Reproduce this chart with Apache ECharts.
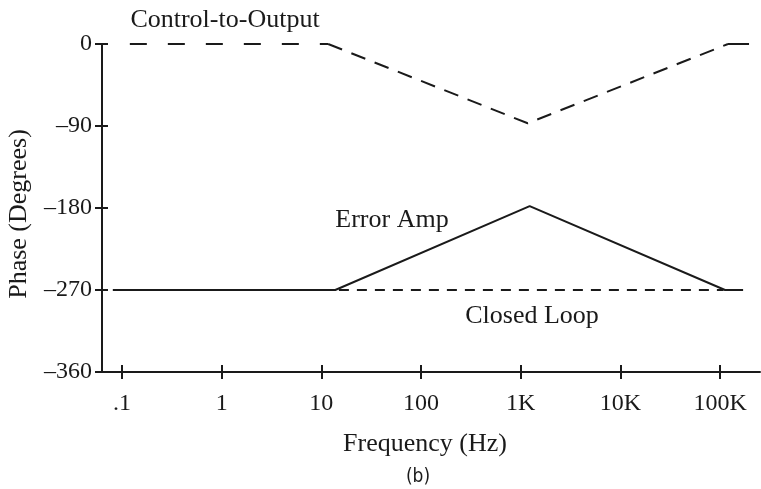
<!DOCTYPE html>
<html>
<head>
<meta charset="utf-8">
<script src="https://cdn.jsdelivr.net/npm/echarts@6/dist/echarts.min.js"></script>
<style>
  html, body { margin: 0; padding: 0; background: #ffffff; }
  #chart { width: 761px; height: 489px; }
</style>
</head>
<body>
<div id="chart"></div>
<script>
// Frequency decades shown on the axis (log10 of Hz) and their labels
const decadeExponents = [-1, 0, 1, 2, 3, 4, 5];
const decadeLabels = ['.1', '1', '10', '100', '1K', '10K', '100K'];

// Phase axis ticks (degrees)
const phaseTicks = [0, -90, -180, -270, -360];

// Control-to-output phase asymptotes (Hz, degrees)
const controlFreq = [0.12, 11.7, 1175, 120000, 195000];
const controlPhase = [0, 0, -87, 0, 0];

// Error amplifier phase asymptotes (Hz, degrees)
const errorAmpFreq = [0.081, 13.8, 1230, 112000, 170000];
const errorAmpPhase = [-270, -270, -178, -270, -270];

// Closed loop phase (Hz, degrees)
const closedLoopFreq = [15, 108000];
const closedLoopPhase = [-270, -270];

const INK = '#1a1a1a';
const SERIF = '"Liberation Serif", "Times New Roman", serif';

function toPoints(freqs, phases) {
  return freqs.map((f, i) => [Math.log10(f), phases[i]]);
}

const controlPts = toPoints(controlFreq, controlPhase);
const errorAmpPts = toPoints(errorAmpFreq, errorAmpPhase);
const closedLoopPts = toPoints(closedLoopFreq, closedLoopPhase);

function lineSeries(name, data, type, width) {
  return {
    name: name,
    type: 'line',
    data: data,
    symbol: 'none',
    silent: true,
    animation: false,
    lineStyle: { color: INK, width: width, type: type, cap: 'butt' },
    z: 3
  };
}

const GRID = { left: 102, right: 1, top: 44, bottom: 117 };

const xCommon = {
  type: 'value',
  min: -1.2,
  max: 5.4,
  position: 'bottom',
  splitLine: { show: false }
};
const yCommon = {
  type: 'value',
  min: phaseTicks[phaseTicks.length - 1],
  max: phaseTicks[0],
  interval: 90,
  position: 'left',
  splitLine: { show: false }
};

const option = {
  backgroundColor: '#ffffff',
  animation: false,
  grid: GRID,
  xAxis: [
    Object.assign({}, xCommon, {
      axisLine: { show: true, onZero: false, lineStyle: { color: INK, width: 2 } },
      axisTick: { show: true, inside: false, length: 7, customValues: decadeExponents,
                  lineStyle: { color: INK, width: 2 } },
      axisLabel: {
        show: true,
        customValues: decadeExponents,
        margin: 20,
        color: INK,
        fontFamily: SERIF,
        fontSize: 24,
        formatter: function (v) {
          const i = decadeExponents.indexOf(Math.round(v));
          return i >= 0 ? decadeLabels[i] : '';
        }
      }
    }),
    // inner half of the crossing ticks on the frequency axis
    Object.assign({}, xCommon, {
      axisLine: { show: false, onZero: false },
      axisTick: { show: true, inside: true, length: 7, customValues: decadeExponents,
                  lineStyle: { color: INK, width: 2 } },
      axisLabel: { show: false }
    })
  ],
  yAxis: [
    Object.assign({}, yCommon, {
      axisLine: { show: true, onZero: false, lineStyle: { color: INK, width: 2 } },
      axisTick: { show: true, inside: false, length: 7, lineStyle: { color: INK, width: 2 } },
      axisLabel: {
        show: true,
        margin: 10,
        color: INK,
        fontFamily: SERIF,
        fontSize: 24,
        formatter: function (v) {
          return v < 0 ? '\u2013' + Math.abs(v) : String(v);
        }
      }
    }),
    // inner half of the crossing ticks on the phase axis
    Object.assign({}, yCommon, {
      axisLine: { show: false, onZero: false },
      axisTick: { show: true, inside: true, length: 6, lineStyle: { color: INK, width: 2 } },
      axisLabel: { show: false }
    })
  ],
  series: [
    lineSeries('Control-to-Output', controlPts.slice(0, 2), [17, 21], 2),
    lineSeries('Control-to-Output', controlPts.slice(1, 4), [15, 10], 2),
    lineSeries('Control-to-Output', controlPts.slice(3, 5), 'solid', 2),
    lineSeries('Error Amp', errorAmpPts, 'solid', 2),
    lineSeries('Closed Loop', closedLoopPts, [10, 8], 2)
  ],
  graphic: [
    { type: 'text', x: 225, y: 20,
      style: { text: 'Control-to-Output', fill: INK, fontFamily: SERIF, fontSize: 26,
               align: 'center', verticalAlign: 'middle', textAlign: 'center', textVerticalAlign: 'middle' } },
    { type: 'text', x: 392, y: 220,
      style: { text: 'Error Amp', fill: INK, fontFamily: SERIF, fontSize: 26,
               align: 'center', verticalAlign: 'middle', textAlign: 'center', textVerticalAlign: 'middle' } },
    { type: 'text', x: 532, y: 316,
      style: { text: 'Closed Loop', fill: INK, fontFamily: SERIF, fontSize: 26,
               align: 'center', verticalAlign: 'middle', textAlign: 'center', textVerticalAlign: 'middle' } },
    { type: 'text', x: 425, y: 444,
      style: { text: 'Frequency (Hz)', fill: INK, fontFamily: SERIF, fontSize: 26,
               align: 'center', verticalAlign: 'middle', textAlign: 'center', textVerticalAlign: 'middle' } },
    { type: 'text', x: 19, y: 214, rotation: Math.PI / 2,
      style: { text: 'Phase (Degrees)', fill: INK, fontFamily: SERIF, fontSize: 26,
               align: 'center', verticalAlign: 'middle', textAlign: 'center', textVerticalAlign: 'middle' } },
    { type: 'text', x: 418, y: 477,
      style: { text: '(b)', fill: INK, fontFamily: '"DejaVu Sans Condensed", "Roboto", sans-serif', fontSize: 19,
               align: 'center', verticalAlign: 'middle', textAlign: 'center', textVerticalAlign: 'middle' } }
  ]
};

const chart = echarts.init(document.getElementById('chart'), null, { renderer: 'canvas' });
chart.setOption(option);
</script>
</body>
</html>
